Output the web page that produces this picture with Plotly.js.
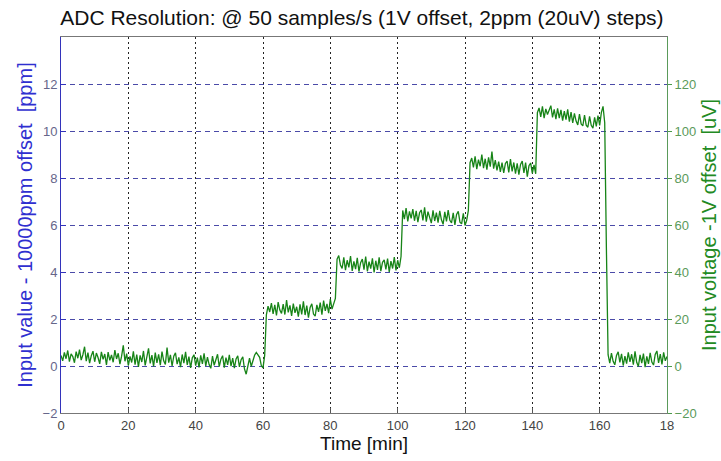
<!DOCTYPE html>
<html>
<head>
<meta charset="utf-8">
<script src="https://cdn.plot.ly/plotly-3.0.1.min.js"></script>
<style>html,body{margin:0;padding:0;background:#fff;}#chart{width:721px;height:461px;}</style>
</head>
<body>
<div id="chart"></div>
<script>
// Sample timing (minutes)
const startTime = 0;
const sampleInterval = 0.5;

// Input value - 10000 ppm offset [ppm], one per 0.5 min
const baseline1 = [
0.45,0.22,0.58,0.31,0.66,0.19,0.52,0.40,0.14,0.61,
0.33,0.70,0.25,0.48,0.82,0.21,0.57,0.12,0.44,0.63,
0.18,0.55,0.36,0.09,0.60,0.28,0.51,0.05,0.59,0.24,
0.47,0.16,0.68,0.30,0.54,0.08,0.42,0.88,0.20,0.53,
0.02,0.41,0.15,0.62,0.06,0.49,-0.04,0.45,0.17,0.64,
0.03,0.38,0.75,0.11,0.46,-0.02,0.57,0.13,0.50,0.04,
0.61,0.22,0.07,0.78,0.14,0.47,0.00,0.42,0.56,0.08,
0.37,-0.05,0.49,0.12,0.60,0.05,0.40,-0.08,0.35,0.48,
0.02,0.36,-0.06,0.45,0.09,0.54,0.00,0.38,0.06,-0.10,
0.42,0.03,0.33,0.50,-0.03,0.29,0.44,-0.07,0.36,0.05,
0.47,-0.01,0.34,-0.09,0.30,0.43,-0.04,0.27,0.39,-0.12,
-0.35,0.04,0.33,-0.02,0.28,0.46,0.58,0.49,0.37,0.02,
-0.08,0.45];
const step2ppm = [
2.18,2.55,2.30,2.68,2.22,2.60,2.15,2.72,2.38,2.24,
2.63,2.19,2.80,2.28,2.58,2.13,2.66,2.26,2.52,2.10,
2.62,2.20,2.75,2.17,2.57,2.06,2.49,2.65,2.21,2.12,
2.60,2.30,2.70,2.18,2.78,2.35,2.64,2.25,2.85,2.42,
2.70,2.88];
const step4ppm = [
4.55,4.70,4.30,4.15,4.62,4.08,4.50,4.20,4.68,4.05,
4.45,4.12,4.60,4.02,4.40,4.55,4.10,4.66,4.03,4.44,
4.14,4.58,3.98,4.48,4.09,4.62,4.04,4.41,4.52,4.11,
4.57,4.00,4.46,4.15,4.63,4.07,4.50,4.18,4.66];
const step6ppm = [
6.62,6.25,6.72,6.15,6.58,6.28,6.68,6.18,6.60,6.12,
6.52,6.64,6.20,6.75,6.14,6.57,6.26,6.08,6.62,6.17,
6.53,6.10,6.60,6.22,6.03,6.56,6.15,6.63,6.20,6.09,
6.52,6.00,6.45,6.58,6.12,6.05,6.50,5.98,6.20,6.62];
const step8ppm = [
8.65,8.85,8.45,8.92,8.38,8.78,8.50,9.00,8.42,8.82,
8.36,8.88,8.48,9.12,8.40,8.76,8.32,8.70,8.26,8.65,
8.22,8.62,8.72,8.24,8.80,8.28,8.66,8.18,8.62,8.14,
8.58,8.72,8.22,8.66,8.06,8.52,8.64,8.20,8.56,8.18];
const step10ppm = [
10.78,10.98,10.60,11.05,10.55,10.94,10.70,10.88,11.08,10.58,
10.92,10.50,10.96,10.55,10.90,10.44,10.85,10.48,10.92,10.40,
10.80,10.34,10.75,10.42,10.26,10.72,10.30,10.22,10.68,10.25,
10.16,10.62,10.24,10.12,10.58,10.20,10.66,10.24,10.78,11.05,
10.35];
const dropSample = [5.0];
const baseline2 = [
0.48,0.12,0.55,0.20,0.05,0.45,0.60,0.15,0.52,0.02,
0.42,0.10,0.58,0.18,0.50,0.06,0.62,0.16,-0.02,0.47,
0.12,0.53,-0.05,0.41,0.09,0.56,0.17,0.04,0.49,0.64,
0.13,0.51,0.07,0.58,0.22,0.40];

// Axis ticks
const xTickVals = [0,20,40,60,80,100,120,140,160,180];
const xTickText = ['0','20','40','60','80','100','120','140','160','18'];
const yLeftTicks = [-2,0,2,4,6,8,10,12];
const yRightTicks = [-20,0,20,40,60,80,100,120];

const values = [].concat(baseline1, step2ppm, step4ppm, step6ppm, step8ppm, step10ppm, dropSample, baseline2);
const times = values.map((v, i) => startTime + i * sampleInterval);

const font = 'Liberation Sans, Arial, sans-serif';

const trace = {
  x: times, y: values, type: 'scatter', mode: 'lines',
  line: {color: '#178417', width: 1.3},
  hoverinfo: 'skip', showlegend: false
};
// invisible trace to activate the right axis
const trace2 = {x: [0], y: [0], yaxis: 'y2', type: 'scatter', mode: 'lines',
  line: {color: 'rgba(0,0,0,0)'}, showlegend: false, hoverinfo: 'skip'};

const layout = {
  width: 721, height: 461,
  margin: {l: 61, r: 54, t: 37, b: 48},
  paper_bgcolor: '#ffffff', plot_bgcolor: '#ffffff',
  font: {family: font, size: 13, color: '#444'},
  title: {text: 'ADC Resolution: @ 50 samples/s (1V offset, 2ppm (20uV) steps)',
          font: {family: font, size: 21, color: '#111'}, x: 0.502, xanchor: 'center', y: 0.962, yanchor: 'middle'},
  xaxis: {
    range: [0, 180], tickvals: xTickVals, ticktext: xTickText,
    showgrid: true, gridcolor: '#222', griddash: '2px,3px', gridwidth: 1,
    ticks: 'inside', ticklen: 5, tickcolor: '#555',
    showline: true, linecolor: '#777', linewidth: 1, mirror: true,
    zeroline: false, tickfont: {family: font, size: 13, color: '#444'},
    title: {text: 'Time [min]', font: {family: font, size: 19, color: '#111'}, standoff: 2}
  },
  yaxis: {
    range: [-2, 14], tickvals: yLeftTicks,
    showgrid: true, gridcolor: '#4a4aa8', griddash: '5px,4px', gridwidth: 1,
    ticks: 'inside', ticklen: 5, tickcolor: '#3333bb',
    showline: true, linecolor: '#3333bb', linewidth: 1,
    zeroline: false, tickfont: {family: font, size: 13, color: '#66668a'},
    title: {text: 'Input value - 10000ppm offset  [ppm]', font: {family: font, size: 20, color: '#2f2fd0'}, standoff: 4}
  },
  yaxis2: {
    range: [-20, 140], tickvals: yRightTicks, overlaying: 'y', side: 'right',
    showgrid: false, ticks: 'outside', ticklen: 4, tickcolor: '#4a9a4a',
    showline: true, linecolor: '#5a9a5a', linewidth: 1,
    zeroline: false, tickfont: {family: font, size: 13, color: '#5a9a5a'},
    title: {text: 'Input voltage -1V offset  [uV]', font: {family: font, size: 20, color: '#228a22'}, standoff: 6}
  }
};

Plotly.newPlot('chart', [trace, trace2], layout, {displayModeBar: false, staticPlot: true});
</script>
</body>
</html>
